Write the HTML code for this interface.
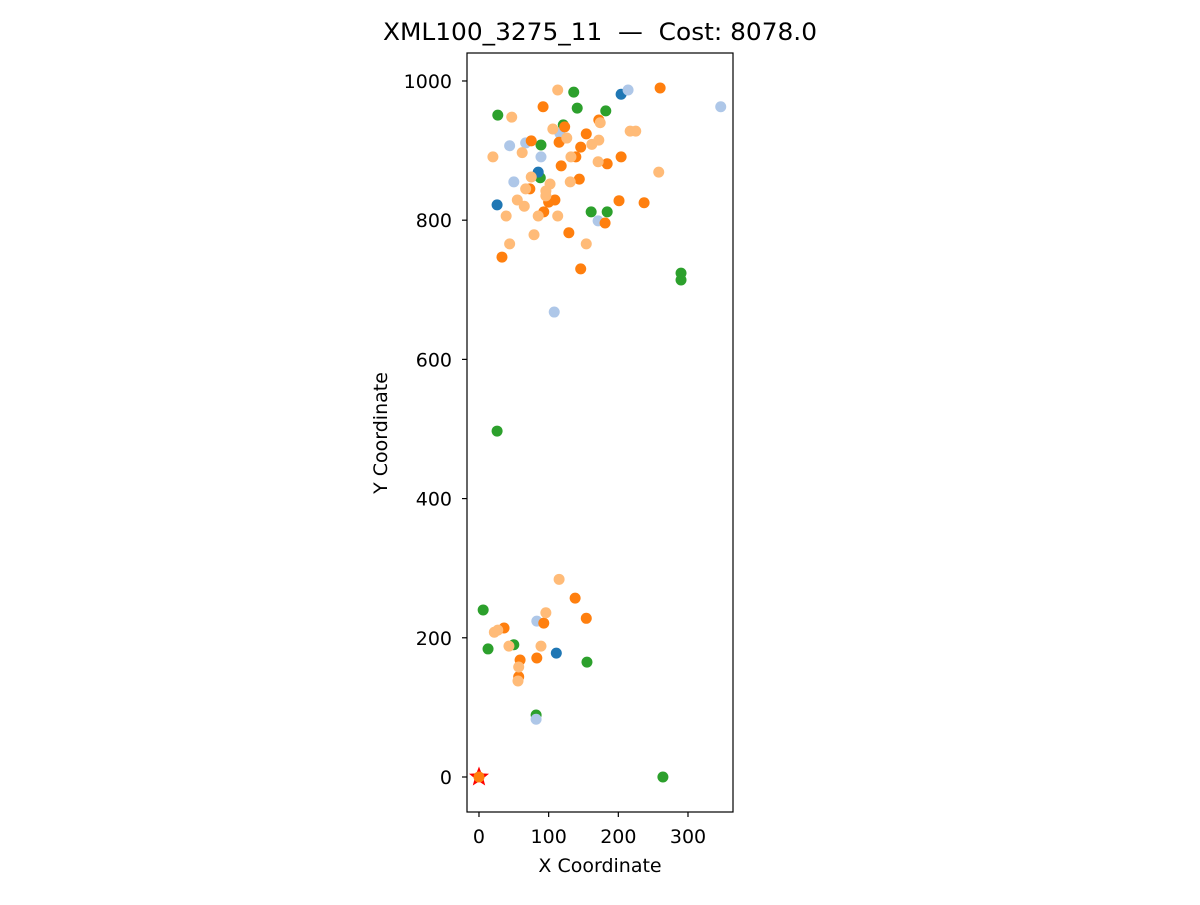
<!DOCTYPE html>
<html><head><meta charset="utf-8"><style>
body{margin:0;background:#fff;font-family:"Liberation Sans","DejaVu Sans",sans-serif}
svg text{font-family:"DejaVu Sans","Liberation Sans",sans-serif}
</style></head><body>
<svg id="chart" width="1200" height="900" xmlns="http://www.w3.org/2000/svg">
<rect width="1200" height="900" fill="#fff"/>
<text x="383" y="40" font-size="24" textLength="434" lengthAdjust="spacingAndGlyphs" style="white-space:pre">XML100_3275_11  —  Cost: 8078.0</text>
<g id="plot"></g>
<rect x="467" y="53" width="266" height="759" fill="none" stroke="#000" stroke-width="1.2"/>
<text x="600" y="872" text-anchor="middle" font-size="19">X Coordinate</text>
<text transform="translate(387,433) rotate(-90)" text-anchor="middle" font-size="19">Y Coordinate</text>
</svg>
<script>
const xTicks=[0,100,200,300];
const yTicks=[0,200,400,600,800,1000];
const routeColors=['#2ca02c','#1f77b4','#aec7e8','#ff7f0e','#ffbb78'];
const routeNames=['route-green','route-blue','route-lightblue','route-orange','route-lightorange'];
const greenX=[27,136,141,182,89,121,88,161,184,290,290,26,6,13,50,155,82,264];
const greenY=[951,984,961,957,908,937,861,812,812,724,714,497,240,184,190,165,89,0];
const blueX=[26,85,204,111];
const blueY=[822,869,981,178];
const lightBlueX=[214,347,44,67,89,50,171,108,116,83,82];
const lightBlueY=[987,963,907,911,891,855,799,668,925,224,83];
const orangeX=[260,92,172,123,75,115,154,146,139,204,184,118,144,73,109,100,93,201,237,181,129,33,146,138,154,36,93,59,83,57];
const orangeY=[990,963,944,934,914,912,924,905,891,891,881,878,859,845,829,826,812,828,825,796,782,747,730,257,228,214,221,168,171,144];
const lightOrangeX=[113,47,174,217,225,106,126,162,172,62,20,132,171,258,75,102,131,67,96,96,55,65,39,85,113,79,44,154,115,96,22,27,43,89,57,56];
const lightOrangeY=[987,948,940,928,928,931,918,909,915,897,891,891,884,869,862,852,855,845,842,835,829,820,806,806,806,779,766,766,284,236,208,211,188,188,158,138];
const depot=[0,0];
const seriesX=[greenX,blueX,lightBlueX,orangeX,lightOrangeX];
const seriesY=[greenY,blueY,lightBlueY,orangeY,lightOrangeY];
const X0=467,X1=733,Y0=812,Y1=53,xmin=-17.2,xmax=364.6,ymin=-50.3,ymax=1040.2;
const sx=v=>X0+(v-xmin)/(xmax-xmin)*(X1-X0);
const sy=v=>Y0-(v-ymin)/(ymax-ymin)*(Y0-Y1);
const NS='http://www.w3.org/2000/svg';
const svg=document.getElementById('chart');
const plot=document.getElementById('plot');
function mk(tag,attrs,parent){const e=document.createElementNS(NS,tag);for(const k in attrs)e.setAttribute(k,attrs[k]);parent.appendChild(e);return e;}
xTicks.forEach(t=>{
  const g=mk('g',{},svg);
  
  
  mk('line',{x1:sx(t),x2:sx(t),y1:812,y2:817,stroke:'#000','stroke-width':1.2},g);
  const tx=mk('text',{x:sx(t),y:843,'text-anchor':'middle','font-size':'19'},g);tx.textContent=t;
});
yTicks.forEach(t=>{
  const g=mk('g',{},svg);
  
  
  mk('line',{x1:462,x2:467,y1:sy(t),y2:sy(t),stroke:'#000','stroke-width':1.2},g);
  const tx=mk('text',{x:452,y:sy(t)+7,'text-anchor':'end','font-size':'19'},g);tx.textContent=t;
});
seriesX.forEach((xs,i)=>{
  const g=mk('g',{},plot);
  
  
  xs.forEach((x,j)=>{
    const c=mk('circle',{cx:sx(x),cy:sy(seriesY[i][j]),r:5.5,fill:routeColors[i]},g);
    
    
  });
});
const cx=sx(depot[0]),cy=sy(depot[1]);
let pts=[];for(let k=0;k<10;k++){const r=k%2?4.5:10.5;const a=-Math.PI/2+k*Math.PI/5;pts.push((cx+r*Math.cos(a)).toFixed(1)+','+(cy+r*Math.sin(a)).toFixed(1));}
const star=mk('polygon',{points:pts.join(' '),fill:'#ff0000'},plot);


const dc=mk('circle',{cx:cx,cy:cy,r:5.5,fill:'#ff7f0e'},plot);


</script>
</body></html>
